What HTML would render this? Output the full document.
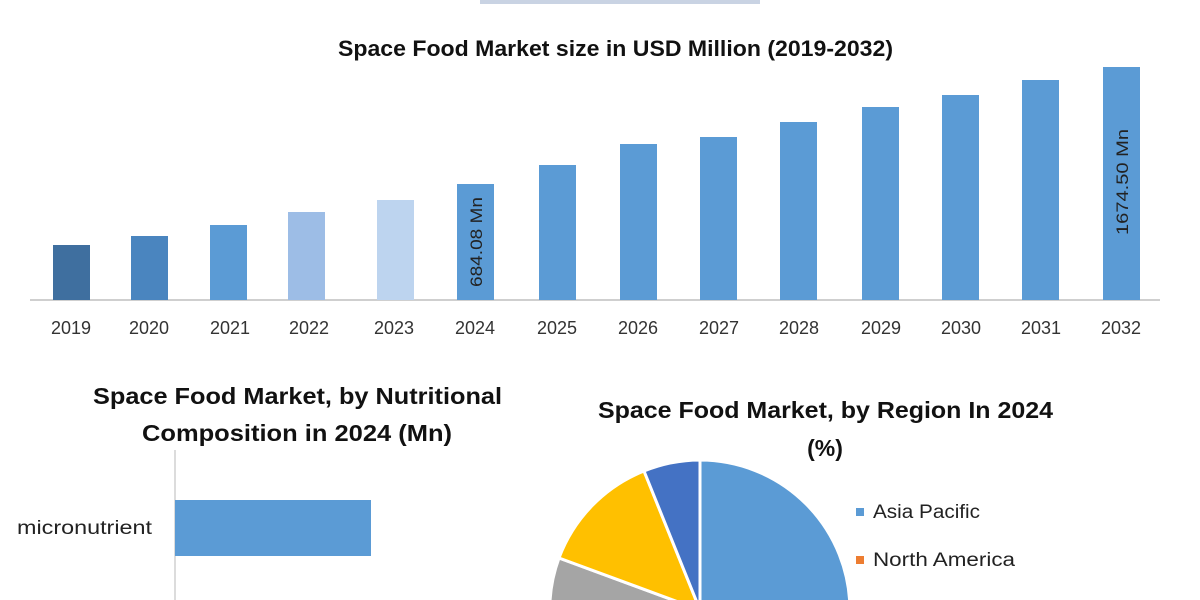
<!DOCTYPE html>
<html><head><style>
html,body{margin:0;background:#fff;width:1200px;height:600px;overflow:hidden;}
svg{display:block;}
svg text{font-family:"Liberation Sans",sans-serif;}
</style></head><body>
<svg width="1200" height="600" viewBox="0 0 1200 600" xmlns="http://www.w3.org/2000/svg">
<defs><clipPath id="c"><rect x="0" y="0" width="1200" height="600"/></clipPath></defs>
<rect width="1200" height="600" fill="#fff"/>
<rect x="480" y="0" width="280" height="4" fill="#c9d3e3"/>
<text x="338" y="56" textLength="555" lengthAdjust="spacingAndGlyphs" font-size="22" font-weight="bold" fill="#111">Space Food Market size in USD Million (2019-2032)</text>
<line x1="30" y1="300" x2="1160" y2="300" stroke="#bfbfbf" stroke-width="1.5"/>
<g>
<rect x="53" y="245" width="37" height="55" fill="#3f6f9f"/>
<rect x="131" y="236" width="37" height="64" fill="#4a85bf"/>
<rect x="210" y="225" width="37" height="75" fill="#5b9bd5"/>
<rect x="288" y="212" width="37" height="88" fill="#9dbde6"/>
<rect x="377" y="200" width="37" height="100" fill="#bdd4ef"/>
<rect x="457" y="184" width="37" height="116" fill="#5b9bd5"/>
<rect x="539" y="165" width="37" height="135" fill="#5b9bd5"/>
<rect x="620" y="144" width="37" height="156" fill="#5b9bd5"/>
<rect x="700" y="137" width="37" height="163" fill="#5b9bd5"/>
<rect x="780" y="122" width="37" height="178" fill="#5b9bd5"/>
<rect x="862" y="107" width="37" height="193" fill="#5b9bd5"/>
<rect x="942" y="95" width="37" height="205" fill="#5b9bd5"/>
<rect x="1022" y="80" width="37" height="220" fill="#5b9bd5"/>
<rect x="1103" y="67" width="37" height="233" fill="#5b9bd5"/>
</g>
<text transform="translate(482,287) rotate(-90)" textLength="90" lengthAdjust="spacingAndGlyphs" font-size="17" fill="#222">684.08 Mn</text>
<text transform="translate(1128,235) rotate(-90)" textLength="106" lengthAdjust="spacingAndGlyphs" font-size="17" fill="#222">1674.50 Mn</text>
<g font-size="18" fill="#333" text-anchor="middle">
<text x="71" y="334">2019</text><text x="149" y="334">2020</text><text x="230" y="334">2021</text>
<text x="309" y="334">2022</text><text x="394" y="334">2023</text><text x="475" y="334">2024</text>
<text x="557" y="334">2025</text><text x="638" y="334">2026</text><text x="719" y="334">2027</text>
<text x="799" y="334">2028</text><text x="881" y="334">2029</text><text x="961" y="334">2030</text>
<text x="1041" y="334">2031</text><text x="1121" y="334">2032</text>
</g>
<text x="93" y="404" textLength="409" lengthAdjust="spacingAndGlyphs" font-size="23" font-weight="bold" fill="#111">Space Food Market, by Nutritional</text>
<text x="142" y="441" textLength="310" lengthAdjust="spacingAndGlyphs" font-size="23" font-weight="bold" fill="#111">Composition in 2024 (Mn)</text>
<line x1="175" y1="450" x2="175" y2="600" stroke="#d0d0d0" stroke-width="1.5"/>
<rect x="175" y="500" width="196" height="56" fill="#5b9bd5"/>
<text x="17" y="534" textLength="135" lengthAdjust="spacingAndGlyphs" font-size="19" fill="#222">micronutrient</text>
<text x="598" y="418" textLength="455" lengthAdjust="spacingAndGlyphs" font-size="23" font-weight="bold" fill="#111">Space Food Market, by Region In 2024</text>
<text x="825" y="456" text-anchor="middle" font-size="23" font-weight="bold" fill="#111">(%)</text>
<g stroke="#fff" stroke-width="3" clip-path="url(#c)">
<path d="M700,610 L700,460 A150,150 0 0,1 700,760 Z" fill="#5b9bd5"/>
<path d="M700,610 L700,760 A150,150 0 0,1 570,685 Z" fill="#a5a5a5"/>
<path d="M700,610 L570,685 A150,150 0 0,1 559,558 Z" fill="#a5a5a5"/>
<path d="M700,610 L559,558 A150,150 0 0,1 644,471 Z" fill="#ffc000"/>
<path d="M700,610 L644,471 A150,150 0 0,1 700,460 Z" fill="#4472c4"/>
</g>
<rect x="856" y="508" width="8" height="8" fill="#5b9bd5"/>
<text x="873" y="518" textLength="107" lengthAdjust="spacingAndGlyphs" font-size="19" fill="#222">Asia Pacific</text>
<rect x="856" y="556" width="8" height="8" fill="#ed7d31"/>
<text x="873" y="566" textLength="142" lengthAdjust="spacingAndGlyphs" font-size="19" fill="#222">North America</text>
</svg>
</body></html>
